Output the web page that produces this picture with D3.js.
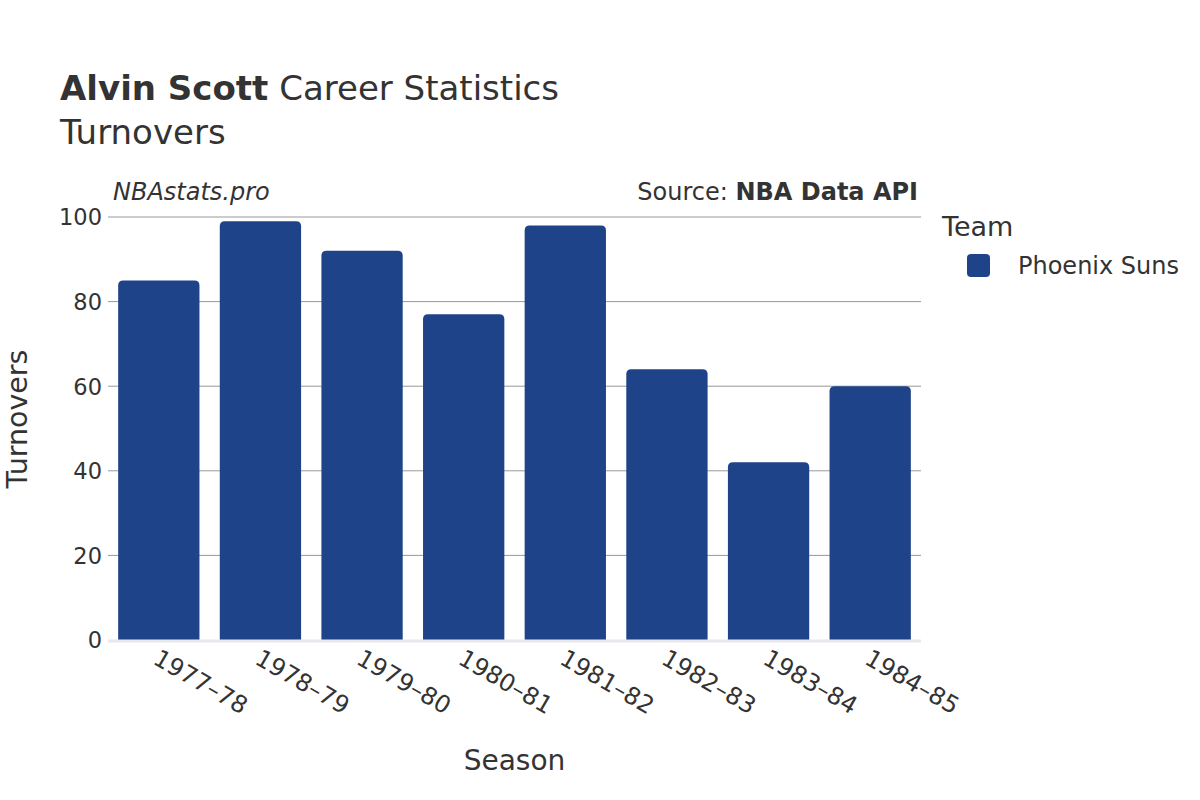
<!DOCTYPE html>
<html><head><meta charset="utf-8">
<script src="https://cdn.jsdelivr.net/npm/d3@7"></script>
<style>body{margin:0;background:#fff;} text{font-family:"DejaVu Sans",sans-serif;}</style>
</head><body>
<svg id="c" width="1200" height="800"></svg>
<script>
const seasons = ["1977–78","1978–79","1979–80","1980–81","1981–82","1982–83","1983–84","1984–85"];
const turnovers = [85,99,92,77,98,64,42,60];
const yTicks = [0,20,40,60,80,100];
const teamName = "Phoenix Suns";
const barColor = "#1f4388";

const svg = d3.select("#c");
const m = {l:108, r:921, t:217, b:640};
const x = d3.scaleBand().domain(seasons).range([m.l, m.r]).paddingInner(0.2).paddingOuter(0.1);
const y = d3.scaleLinear().domain([0,100]).range([m.b, m.t]);

// grid
svg.append("g").selectAll("line").data(yTicks.filter(d=>d>0)).join("line")
  .attr("x1", m.l).attr("x2", m.r).attr("y1", d=>y(d)).attr("y2", d=>y(d))
  .attr("stroke", "#999").attr("stroke-width", 1);

// bars with rounded tops
svg.append("g").selectAll("path").data(seasons).join("path")
  .attr("fill", barColor)
  .attr("d", (s,i) => {
    const x0 = x(s), w = x.bandwidth(), y0 = y(turnovers[i]), yb = y(0), r = 5;
    return `M${x0},${yb} L${x0},${y0+r} Q${x0},${y0} ${x0+r},${y0} L${x0+w-r},${y0} Q${x0+w},${y0} ${x0+w},${y0+r} L${x0+w},${yb} Z`;
  });

// zero line
svg.append("line").attr("x1", m.l).attr("x2", m.r).attr("y1", y(0)+1).attr("y2", y(0)+1)
  .attr("stroke", "#e8e8ee").attr("stroke-width", 3);

// y axis
const yAxis = d3.axisLeft(y).tickValues(yTicks).tickSize(0).tickPadding(6);
const gy = svg.append("g").attr("transform", `translate(${m.l},0)`).call(yAxis);
gy.select(".domain").remove();
gy.selectAll("text").attr("font-size", 22.5).attr("fill", "#333").attr("font-family", "DejaVu Sans").attr("dy", "0.35em");

// x axis
const xAxis = d3.axisBottom(x).tickSize(0).tickPadding(0);
const gx = svg.append("g").attr("transform", `translate(0,${m.b})`).call(xAxis);
gx.select(".domain").remove();
gx.selectAll("text").attr("font-size", 24).attr("fill", "#333").attr("font-family", "DejaVu Sans")
  .attr("text-anchor", "start").attr("dy", 0).attr("y", 0)
  .attr("transform", "translate(-7,23) rotate(30)");

// titles
const t = svg.append("text").attr("x", 60).attr("y", 100).attr("font-size", 34).attr("fill", "#333");
t.append("tspan").attr("font-weight", "bold").text("Alvin Scott");
t.append("tspan").text(" Career Statistics");
svg.append("text").attr("x", 60).attr("y", 144).attr("font-size", 34).attr("fill", "#333").text("Turnovers");

svg.append("text").attr("x", 113).attr("y", 200).attr("font-size", 24).attr("font-style", "italic").attr("fill", "#333").text("NBAstats.pro");
const s = svg.append("text").attr("x", 918).attr("y", 200).attr("font-size", 24).attr("text-anchor", "end").attr("fill", "#333");
s.append("tspan").text("Source: ");
s.append("tspan").attr("font-weight", "bold").text("NBA Data API");

svg.append("text").attr("x", (m.l+m.r)/2).attr("y", 770).attr("text-anchor", "middle").attr("font-size", 28).attr("fill", "#333").text("Season");
svg.append("text").attr("transform", `translate(27,419) rotate(-90)`).attr("text-anchor", "middle").attr("font-size", 28.5).attr("fill", "#333").text("Turnovers");

// legend
svg.append("text").attr("x", 942).attr("y", 236).attr("font-size", 27).attr("fill", "#333").text("Team");
svg.append("rect").attr("x", 967).attr("y", 254).attr("width", 23).attr("height", 23).attr("rx", 4).attr("fill", barColor);
svg.append("text").attr("x", 1018).attr("y", 274).attr("font-size", 24).attr("fill", "#333").text(teamName);
</script>
</body></html>
